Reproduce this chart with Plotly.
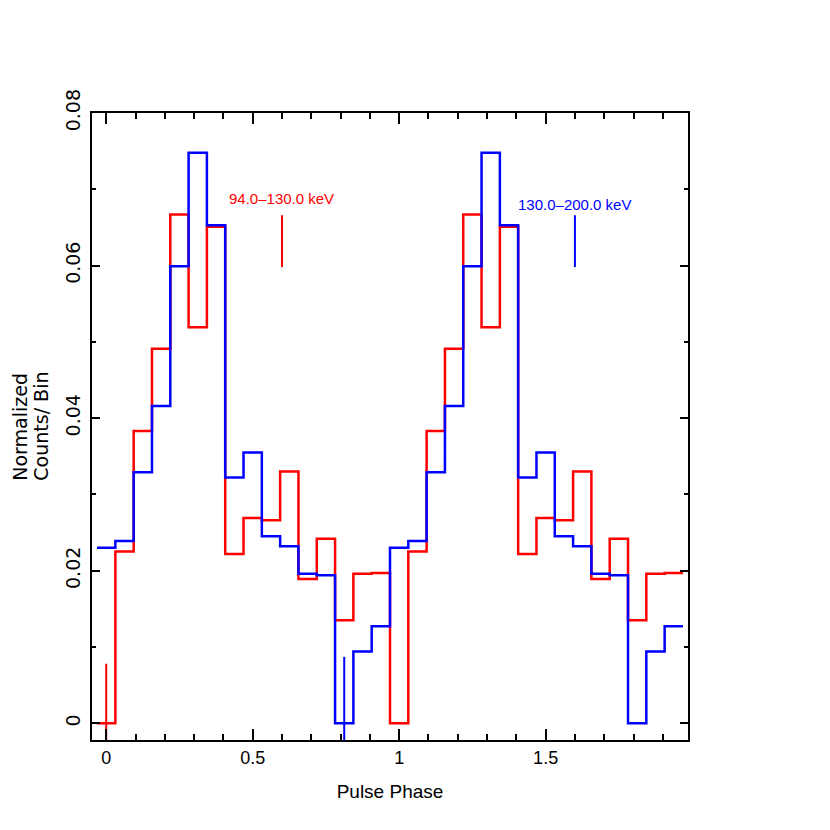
import plotly.graph_objects as go

# pulse profile, 16 phase bins (bin centres at k/16), shown over two cycles
n_bins = 16
red_counts = [0.0, 0.0225, 0.0383, 0.0491, 0.0667, 0.0519, 0.0651, 0.0222,
              0.0269, 0.0266, 0.0330, 0.0189, 0.0242, 0.0135, 0.0196, 0.0197]
blue_counts = [0.0230, 0.0239, 0.0329, 0.0416, 0.0599, 0.0748, 0.0653, 0.0322,
               0.0355, 0.0245, 0.0232, 0.0196, 0.0194, 0.0, 0.0094, 0.0127]

# representative error bars on the profile
red_err_x, red_err_y, red_err = [0.0], [0.0], [0.0078]
blue_err_x, blue_err_y, blue_err = [0.8125], [0.0], [0.0087]

# legend-like labels with a typical error bar below them
red_label = "94.0\u2013130.0 keV"
blue_label = "130.0\u2013200.0 keV"
label_x = [0.6, 1.6]
label_y = [0.0688, 0.0680]
label_bar_y = [0.0632, 0.0632]
label_bar_err = [0.0034, 0.0034]

ytitle_lines = ["Normalized", "Counts/ Bin"]

sans = "Liberation Sans, Arial, sans-serif"
wide = "DejaVu Sans, Verdana, sans-serif"

# bin edges for a step plot
edges = [(k - 0.5) / n_bins for k in range(2 * n_bins + 1)]
red_y = red_counts * 2
blue_y = blue_counts * 2

fig = go.Figure()
fig.add_trace(go.Scatter(x=edges, y=red_y + [red_y[-1]], mode="lines",
                         line=dict(color="#ff0000", width=2.5, shape="hv")))
fig.add_trace(go.Scatter(x=edges, y=blue_y + [blue_y[-1]], mode="lines",
                         line=dict(color="#0000ff", width=2.5, shape="hv")))

for xs, ys, es, col in [(red_err_x, red_err_y, red_err, "#ff0000"),
                        (blue_err_x, blue_err_y, blue_err, "#0000ff"),
                        ([label_x[0]], [label_bar_y[0]], [label_bar_err[0]], "#ff0000"),
                        ([label_x[1]], [label_bar_y[1]], [label_bar_err[1]], "#0000ff")]:
    fig.add_trace(go.Scatter(x=xs, y=ys, mode="markers",
                             marker=dict(size=1, color=col),
                             error_y=dict(type="data", array=es, color=col,
                                          thickness=2, width=0)))

fig.add_annotation(x=label_x[0], y=label_y[0], text=red_label, showarrow=False,
                   font=dict(family=sans, size=15, color="#ff0000"))
fig.add_annotation(x=label_x[1], y=label_y[1], text=blue_label, showarrow=False,
                   font=dict(family=sans, size=15, color="#0000ff"))

# two-line rotated y title, one annotation per line
for txt, px in zip(ytitle_lines, [-0.122, -0.087]):
    fig.add_annotation(x=px, y=0.5, xref="paper", yref="paper",
                       xanchor="center", yanchor="middle",
                       text=txt, showarrow=False, textangle=-90,
                       font=dict(family=wide, size=19, color="black"))

fig.update_layout(
    width=830, height=830,
    margin=dict(l=84, r=150, t=105, b=98),
    paper_bgcolor="white", plot_bgcolor="white",
    showlegend=False,
    xaxis=dict(range=[-0.0485, 1.986], tickmode="array",
               tickvals=[0, 0.5, 1, 1.5], ticktext=["0", "0.5", "1", "1.5"],
               ticks="inside", ticklen=11, tickwidth=2, tickcolor="black",
               minor=dict(dtick=0.1, ticks="inside", ticklen=6, tickwidth=2,
                          tickcolor="black"),
               showline=True, linecolor="black", linewidth=2, mirror="ticks",
               showgrid=False, zeroline=False,
               tickfont=dict(family=sans, size=18, color="black"),
               title=dict(text="Pulse Phase", standoff=18,
                          font=dict(family=sans, size=19, color="black"))),
    yaxis=dict(range=[-0.0022, 0.08], tickmode="array",
               tickvals=[0, 0.02, 0.04, 0.06, 0.08],
               ticktext=["0", "0.02", "0.04", "0.06", "0.08"],
               tickangle=-90, ticklabelstandoff=2,
               ticks="inside", ticklen=8, tickwidth=2, tickcolor="black",
               minor=dict(dtick=0.01, ticks="inside", ticklen=4, tickwidth=2,
                          tickcolor="black"),
               showline=True, linecolor="black", linewidth=2, mirror="ticks",
               showgrid=False, zeroline=False,
               tickfont=dict(family=wide, size=19, color="black")),
)

fig.write_html("out.html")
